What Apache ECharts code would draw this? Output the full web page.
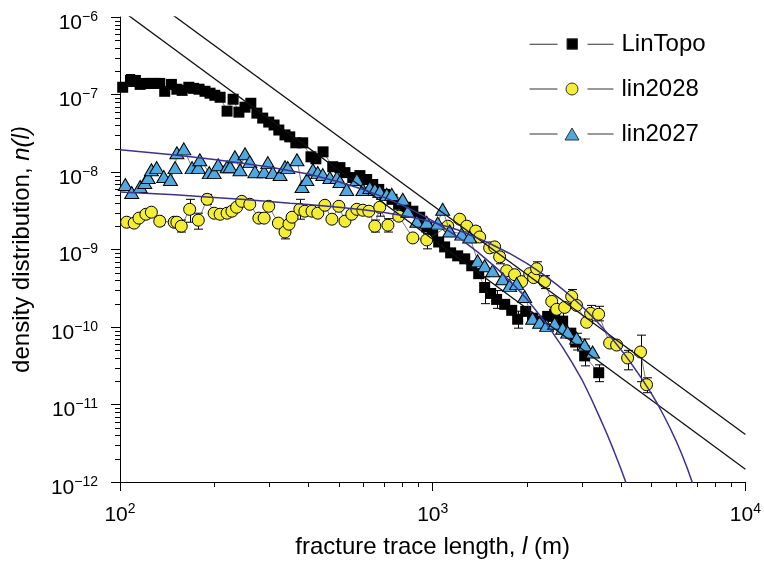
<!DOCTYPE html>
<html>
<head>
<meta charset="utf-8">
<script src="https://cdn.jsdelivr.net/npm/echarts@6/dist/echarts.min.js"></script>
<style>
html, body { margin: 0; padding: 0; background: #fff; }
#chart { width: 764px; height: 567px; }
</style>
</head>
<body>
<div id="chart"></div>
<script>
// ---- measured density distributions: [trace length (m), n(l)] ----
const linTopo = [
  [102,1.24e-7],[108,1.52e-7],[112,1.52e-7],[116,1.35e-7],[120,1.39e-7],[125,1.39e-7],[129,1.39e-7],
  [134,1.39e-7],[139,1.10e-7],[146,1.35e-7],[152,1.17e-7],[158,1.13e-7],[166,1.24e-7],[172,1.20e-7],
  [179,1.17e-7],[187,1.10e-7],[194,1.04e-7],[201,9.77e-8],[209,9.21e-8],[220,6.10e-8],[230,8.69e-8],
  [240,5.92e-8],[251,6.86e-8],[262,7.71e-8],[274,5.75e-8],[286,4.96e-8],[299,4.41e-8],[311,4.04e-8],
  [322,3.48e-8],[337,3.01e-8],[349,2.84e-8],[365,2.38e-8],[384,2.38e-8],[408,1.57e-8],[423,1.48e-8],
  [446,1.82e-8],[479,1.17e-8],[505,1.14e-8],[524,9.82e-9],[555,8.48e-9],[585,8.99e-9],[615,8.00e-9],
  [643,6.90e-9],[672,5.96e-9],[703,5.14e-9],[741,4.44e-9],[778,3.83e-9],[820,3.51e-9],[864,3.12e-9],
  [909,2.61e-9],[957,1.95e-9],[1000,1.54e-9],[1045,1.25e-9],[1092,1.08e-9],[1141,9.05e-10],
  [1202,8.28e-10],[1266,7.58e-10],[1333,6.17e-10],[1403,4.88e-10],[1466,3.23e-10],[1532,2.71e-10],
  [1601,2.27e-10],[1699,1.96e-10],[1789,1.64e-10],[1869,1.26e-10],[1983,1.59e-10],[2086,1.30e-10],
  [2214,1.19e-10],[2331,1.37e-10],[2454,1.46e-10],[2603,1.19e-10],[2764,8.33e-11],[2865,6.40e-11],
  [3061,4.24e-11],[3395,2.57e-11]
];
const lin2028 = [
  [105,2.25e-9],[111,2.19e-9],[115,2.54e-9],[121,2.85e-9],[126,3.03e-9],[134,2.32e-9],[149,2.25e-9],
  [152,2.25e-9],[157,2.00e-9],[167,3.30e-9],[178,2.39e-9],[190,4.44e-9],[200,2.94e-9],[209,2.85e-9],
  [220,2.94e-9],[228,3.12e-9],[236,3.51e-9],[245,4.18e-9],[260,3.83e-9],[278,2.54e-9],[289,2.54e-9],
  [299,3.61e-9],[321,2.19e-9],[337,1.68e-9],[347,2.12e-9],[355,2.61e-9],[376,3.30e-9],[390,3.12e-9],
  [411,3.12e-9],[429,2.94e-9],[452,3.72e-9],[476,2.46e-9],[501,3.61e-9],[524,2.32e-9],[551,2.85e-9],
  [572,3.30e-9],[598,3.21e-9],[625,3.12e-9],[653,2.00e-9],[677,3.51e-9],[719,2.06e-9],[779,2.69e-9],
  [864,1.41e-9],[957,1.33e-9],[1117,2.00e-9],[1220,2.46e-9],[1285,2.00e-9],[1372,1.73e-9],
  [1413,1.45e-9],[1521,1.05e-9],[1578,1.08e-9],[1637,8.04e-10],[1724,5.32e-10],[1828,4.73e-10],
  [1925,3.85e-10],[2042,4.88e-10],[2102,4.34e-10],[2149,5.65e-10],[2280,3.85e-10],[2402,2.14e-10],
  [2492,1.69e-10],[2642,1.79e-10],[2782,2.48e-10],[2885,1.90e-10],[3106,1.15e-10],[3198,1.50e-10],
  [3393,1.46e-10],[3679,6.21e-11],[3874,5.85e-11],[4200,3.99e-11],[4619,4.76e-11],[4827,1.80e-11]
];
const lin2027 = [
  [104,6.90e-9],[109,5.45e-9],[116,6.51e-9],[120,7.32e-9],[123,8.48e-9],[126,1.07e-8],[131,1.14e-8],
  [138,8.73e-9],[145,8.00e-9],[150,1.14e-8],[152,1.77e-8],[160,1.99e-8],[170,1.14e-8],[178,1.14e-8],
  [180,1.44e-8],[193,9.82e-9],[200,9.82e-9],[206,1.24e-8],[220,1.17e-8],[225,1.17e-8],[233,1.57e-8],
  [242,1.07e-8],[251,1.72e-8],[260,1.36e-8],[270,1.01e-8],[289,1.01e-8],[297,1.32e-8],[308,9.82e-9],
  [325,9.26e-9],[337,1.17e-8],[344,1.14e-8],[368,1.44e-8],[382,6.51e-9],[396,8.00e-9],[414,1.07e-8],
  [429,9.82e-9],[445,9.26e-9],[469,8.48e-9],[494,8.48e-9],[505,7.54e-9],[531,5.96e-9],[572,8.00e-9],
  [598,5.96e-9],[629,6.32e-9],[653,5.96e-9],[677,5.62e-9],[713,5.14e-9],[740,5.14e-9],[802,4.44e-9],
  [832,3.12e-9],[890,2.32e-9],[957,2.25e-9],[1038,2.19e-9],[1076,3.30e-9],[1133,1.73e-9],
  [1238,1.58e-9],[1313,1.45e-9],[1392,7.14e-10],[1466,6.17e-10],[1555,5.32e-10],[1674,4.20e-10],
  [1762,3.42e-10],[1855,3.63e-10],[1968,2.48e-10],[2087,1.30e-10],[2198,1.15e-10],[2314,1.05e-10],
  [2454,1.12e-10],[2603,9.66e-11],[2701,8.59e-11],[2885,7.19e-11],[3061,5.85e-11],[3246,4.76e-11]
];

// ---- error bars: [trace length, lower, upper] ----
const linTopoErr = [
  [108,1.27e-7,1.81e-7],[1466,2.0e-10,4.45e-10],[1601,1.74e-10,2.95e-10],[1869,9.66e-11,1.6e-10],
  [2603,9.1e-11,1.55e-10],[3061,3.15e-11,5.68e-11],[3395,1.97e-11,3.25e-11]
];
const lin2028Err = [
  [134,2.06e-9,2.6e-9],[157,1.68e-9,2.4e-9],[167,2.25e-9,4.44e-9],[178,1.83e-9,2.94e-9],
  [190,3.83e-9,5.14e-9],[337,1.37e-9,2.19e-9],[376,2.46e-9,4.44e-9],[653,1.68e-9,2.4e-9],
  [677,2.69e-9,4.44e-9],[719,1.68e-9,2.5e-9],[957,1.02e-9,1.6e-9],[1372,1.45e-9,1.95e-9],
  [1637,6.54e-10,9.05e-10],[2149,4.6e-10,6.94e-10],[2280,3.13e-10,4.6e-10],[2782,2.01e-10,3.04e-10],
  [3198,1.2e-10,1.9e-10],[3393,1.2e-10,1.85e-10],[4200,2.8e-11,5.0e-11],[4619,1.97e-11,7.85e-11],
  [4827,1.42e-11,2.21e-11]
];
const lin2027Err = [
  [2885,5.05e-11,8.3e-11],[3061,3.99e-11,7.0e-11]
];

// ---- fitted curves ----
const powerFitUpper = [[100,3.35e-6],[10000,4.1e-12]];
const powerFitLower = [[100,1.26e-6],[10000,1.46e-12]];
const cutoffFit2027 = [
  [100,1.93e-8],[150,1.66e-8],[200,1.45e-8],[250,1.29e-8],[300,1.16e-8],[400,9.40e-9],[500,7.50e-9],
  [600,5.94e-9],[700,4.70e-9],[800,3.72e-9],[900,2.95e-9],[1000,2.34e-9],[1100,1.85e-9],[1200,1.46e-9],
  [1300,1.15e-9],[1400,9.12e-10],[1600,5.75e-10],[1800,3.63e-10],[2000,2.29e-10],[2200,1.42e-10],
  [2300,1.12e-10],[2400,8.83e-11],[2600,5.50e-11],[2800,3.40e-11],[3000,2.10e-11],[3200,1.23e-11],
  [3400,7.19e-12],[3600,4.25e-12],[3800,2.50e-12],[4000,1.47e-12],[4300,6.6e-13]
];
const cutoffFit2028 = [
  [100,5.50e-9],[150,5.07e-9],[200,4.70e-9],[250,4.42e-9],[300,4.17e-9],[350,3.95e-9],[400,3.80e-9],
  [500,3.50e-9],[600,3.25e-9],[700,3.00e-9],[800,2.74e-9],[900,2.49e-9],[1000,2.25e-9],[1200,1.80e-9],
  [1500,1.23e-9],[1750,9.02e-10],[2000,6.61e-10],[2250,4.81e-10],[2500,3.50e-10],[2750,2.55e-10],
  [3000,1.85e-10],[3250,1.34e-10],[3500,9.70e-11],[3750,7.05e-11],[4000,5.10e-11],[4250,3.68e-11],
  [4500,2.65e-11],[4750,1.92e-11],[5000,1.39e-11],[5250,9.93e-12],[5500,7.00e-12],[5750,4.90e-12],
  [6000,3.40e-12],[6250,2.31e-12],[6500,1.55e-12],[6750,1.01e-12],[7000,6.50e-13]
];

// ---- axes ----
const xRange = [100, 10000];
const yRange = [1e-12, 1e-6];
const minorMantissas = [2, 3, 4, 5, 6, 7, 8, 9];
const xMinorDecades = [2, 3];
const yMinorDecades = [-12, -11, -10, -9, -8, -7];

const FONT = '"Liberation Sans", Arial, Helvetica, sans-serif';
const INK = '#000';
const SQUARE_FILL = '#000000';
const CIRCLE_FILL = '#f3ee35';
const TRIANGLE_FILL = '#4fa9e0';
const CUTOFF_COLOR = '#3b3191';

function powerLabel(v) {
  const e = Math.round(Math.log10(v));
  return '{b|10}{s|' + String(e).replace('-', '\u2212') + '}';
}
const labelRich = {
  b: { fontSize: 21, fontFamily: FONT, color: INK, padding: [2.5, 0, 0, 0] },
  s: { fontSize: 14, fontFamily: FONT, color: INK, verticalAlign: 'top' }
};

const xMinorTicks = [];
xMinorDecades.forEach(e => minorMantissas.forEach(m => xMinorTicks.push([m * Math.pow(10, e), yRange[0]])));
const yMinorTicks = [];
yMinorDecades.forEach(e => minorMantissas.forEach(m => yMinorTicks.push([xRange[0], m * Math.pow(10, e)])));

function minorTickSeries(data, horizontal) {
  return {
    type: 'custom', data: data, clip: false, silent: true, z: 1,
    encode: { x: 0, y: 1 },
    renderItem: function (params, api) {
      const c = api.coord([api.value(0), api.value(1)]);
      if (horizontal) {
        const x = Math.round(c[0]) + 0.5, y = Math.round(c[1]);
        return { type: 'line', shape: { x1: x, y1: y, x2: x, y2: y + 5 }, style: { stroke: INK, lineWidth: 1 } };
      }
      const x = Math.round(c[0]), y = Math.round(c[1]) + 0.5;
      return { type: 'line', shape: { x1: x - 5, y1: y, x2: x, y2: y }, style: { stroke: INK, lineWidth: 1 } };
    }
  };
}

function errorBarSeries(data) {
  return {
    type: 'custom', data: data, silent: true, z: 2,
    encode: { x: 0, y: [1, 2] },
    renderItem: function (params, api) {
      const lo = api.coord([api.value(0), api.value(1)]);
      const hi = api.coord([api.value(0), api.value(2)]);
      const x = Math.round(lo[0]) + 0.5, w = 4.5;
      const st = { stroke: INK, lineWidth: 1 };
      return {
        type: 'group', children: [
          { type: 'line', shape: { x1: x, y1: lo[1], x2: x, y2: hi[1] }, style: st },
          { type: 'line', shape: { x1: x - w, y1: lo[1], x2: x + w, y2: lo[1] }, style: st },
          { type: 'line', shape: { x1: x - w, y1: hi[1], x2: x + w, y2: hi[1] }, style: st }
        ]
      };
    }
  };
}

function dataSeries(name, data, symbol, size, fill, z) {
  return {
    name: name, type: 'line', data: data, z: z,
    symbol: symbol, symbolSize: size, showSymbol: true, showAllSymbol: true,
    lineStyle: { color: '#444', width: 0.7 },
    itemStyle: { color: fill, borderColor: INK, borderWidth: symbol === 'rect' ? 0 : 1 },
    emphasis: { disabled: true }
  };
}

function fitSeries(data, color, width) {
  return {
    type: 'line', data: data, symbol: 'none', smooth: false,
    lineStyle: { color: color, width: width }, z: 6, silent: true, clip: true,
    emphasis: { disabled: true }
  };
}

const nameStyle = {
  fontSize: 24, fontFamily: FONT, color: INK,
  rich: { i: { fontSize: 24, fontFamily: FONT, fontStyle: 'italic', color: INK } }
};

const chart = echarts.init(document.getElementById('chart'), null, { renderer: 'canvas' });
chart.setOption({
  animation: false,
  backgroundColor: '#fff',
  textStyle: { fontFamily: FONT },
  grid: { left: 120, right: 18, top: 17, bottom: 85, containLabel: false },
  xAxis: {
    type: 'log', logBase: 10, min: xRange[0], max: xRange[1], splitNumber: 2,
    axisLine: { lineStyle: { color: INK, width: 1 } },
    axisTick: { length: 9, lineStyle: { color: INK, width: 1 } },
    minorTick: { show: false }, splitLine: { show: false },
    axisLabel: { margin: 20, formatter: powerLabel, rich: labelRich },
    name: 'fracture trace length, {i|l} (m)', nameLocation: 'middle', nameGap: 53,
    nameTextStyle: nameStyle
  },
  yAxis: {
    type: 'log', logBase: 10, min: yRange[0], max: yRange[1], splitNumber: 6,
    axisLine: { lineStyle: { color: INK, width: 1 } },
    axisTick: { length: 9, lineStyle: { color: INK, width: 1 } },
    minorTick: { show: false }, splitLine: { show: false },
    axisLabel: { margin: 22, formatter: powerLabel, rich: labelRich, padding: [9.5, 0, 0, 0] },
    name: 'density distribution, {i|n(l)}', nameLocation: 'middle', nameGap: 86, nameRotate: 90,
    nameTextStyle: nameStyle
  },
  legend: {
    orient: 'vertical', left: 524, top: 27, itemWidth: 84, itemHeight: 14, itemGap: 21,
    selectedMode: false,
    textStyle: { fontSize: 24, fontFamily: FONT, color: INK, padding: [0, 0, 0, 3] },
    data: [
      { name: 'LinTopo', icon: 'path://M0,7H28M37.5,1.5H48V12H37.5ZM58,7H84',
        itemStyle: { color: SQUARE_FILL, borderColor: '#333', borderWidth: 1 } },
      { name: 'lin2028', icon: 'path://M0,7H28M36.5,7A6,6 0 1,1 48.5,7A6,6 0 1,1 36.5,7ZM58,7H84',
        itemStyle: { color: CIRCLE_FILL, borderColor: '#333', borderWidth: 1 } },
      { name: 'lin2027', icon: 'path://M0,7H28M42.5,1L49.5,13H35.5ZM58,7H84',
        itemStyle: { color: TRIANGLE_FILL, borderColor: '#333', borderWidth: 1 } }
    ]
  },
  series: [
    minorTickSeries(xMinorTicks, true),
    minorTickSeries(yMinorTicks, false),
    errorBarSeries(linTopoErr),
    errorBarSeries(lin2028Err),
    errorBarSeries(lin2027Err),
    dataSeries('LinTopo', linTopo, 'rect', 11, SQUARE_FILL, 3),
    dataSeries('lin2028', lin2028, 'circle', 12, CIRCLE_FILL, 4),
    dataSeries('lin2027', lin2027, 'triangle', [14, 12], TRIANGLE_FILL, 5),
    fitSeries(powerFitUpper, '#111', 1.3),
    fitSeries(powerFitLower, '#111', 1.3),
    fitSeries(cutoffFit2027, CUTOFF_COLOR, 1.5),
    fitSeries(cutoffFit2028, CUTOFF_COLOR, 1.5)
  ]
});
</script>
</body>
</html>
